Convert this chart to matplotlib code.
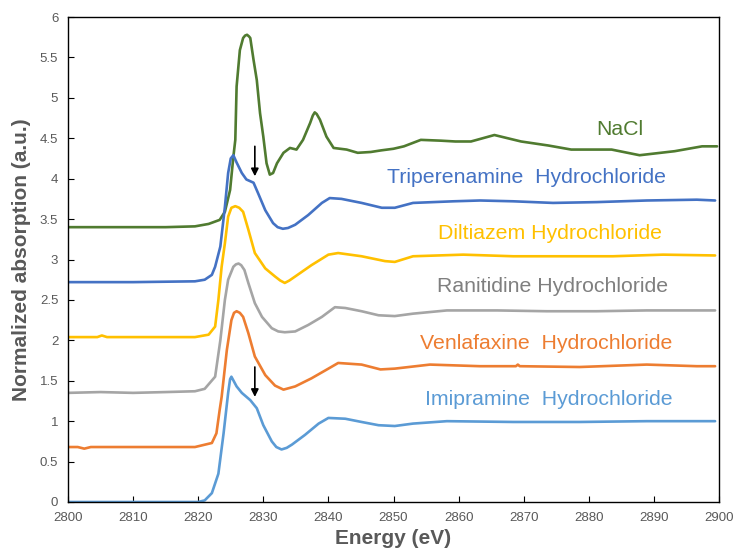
import matplotlib
matplotlib.use("Agg")
import matplotlib.pyplot as plt

plt.rcParams['font.family'] = ['Liberation Sans', 'DejaVu Sans']

# ---- data ----
E_nacl = [2800, 2805, 2810, 2815, 2819.5, 2821.6, 2823.3, 2824.1, 2824.9, 2825.4, 2825.7, 2825.9, 2826.4,
          2826.9, 2827.2, 2827.5, 2827.8, 2828.0, 2828.5, 2829.0, 2829.5, 2830.0, 2830.5, 2831.0, 2831.5,
          2832.1, 2833.1, 2834.1, 2835.1, 2836.1, 2837.2, 2837.6, 2837.9, 2838.2, 2838.7, 2839.7, 2840.8,
          2842.8, 2844.5, 2846.5, 2848.1, 2850, 2851.6, 2854.2, 2857.3, 2859.5, 2861.9, 2865.5, 2869.6,
          2873.8, 2877.3, 2883.5, 2887.8, 2893.2, 2897.4, 2899.7]
A_nacl = [3.40, 3.40, 3.40, 3.40, 3.41, 3.44, 3.49, 3.59, 3.86, 4.27, 4.48, 5.14, 5.59,
          5.74, 5.77, 5.78, 5.76, 5.74, 5.47, 5.22, 4.81, 4.52, 4.19, 4.05, 4.07,
          4.19, 4.32, 4.38, 4.36, 4.48, 4.69, 4.78, 4.82, 4.80, 4.73, 4.52, 4.38,
          4.36, 4.32, 4.33, 4.35, 4.37, 4.40, 4.48, 4.47, 4.46, 4.46, 4.54, 4.46,
          4.41, 4.36, 4.36, 4.29, 4.34, 4.40, 4.40]

E_trip = [2800, 2810, 2819.5, 2821.0, 2822.1, 2822.6, 2823.4, 2824.1, 2824.6, 2825.0, 2825.4, 2825.9,
          2826.7, 2827.4, 2828.5, 2829.2, 2830.3, 2831.5, 2832.2, 2833.0, 2833.8, 2834.9, 2836.9, 2839.0,
          2840.2, 2842.0, 2845.1, 2848.2, 2850.2, 2853, 2859.2, 2863.3, 2868.4, 2874.5, 2881.2, 2888.9,
          2896.6, 2899.4]
A_trip = [2.72, 2.72, 2.73, 2.75, 2.81, 2.91, 3.16, 3.65, 4.07, 4.25, 4.29, 4.20,
          4.07, 3.99, 3.95, 3.82, 3.61, 3.45, 3.40, 3.38, 3.39, 3.43, 3.55, 3.70,
          3.76, 3.75, 3.70, 3.64, 3.64, 3.70, 3.72, 3.73, 3.72, 3.70, 3.71, 3.73,
          3.74, 3.73]

E_dilt = [2800, 2804.5, 2805.2, 2806, 2810, 2819.5, 2821.6, 2822.6, 2823.1, 2823.6, 2824.1, 2824.6,
          2825.1, 2825.7, 2826.3, 2826.9, 2827.7, 2828.7, 2830.3, 2831.8, 2832.6, 2833.3, 2834.0, 2834.9,
          2837.4, 2840.0, 2841.5, 2845.1, 2848.7, 2850.2, 2853, 2860.7, 2868.4, 2876, 2883.7, 2891.4,
          2899.4]
A_dilt = [2.04, 2.04, 2.06, 2.04, 2.04, 2.04, 2.07, 2.17, 2.50, 2.91, 3.20, 3.53,
          3.64, 3.66, 3.64, 3.59, 3.37, 3.08, 2.89, 2.79, 2.74, 2.71, 2.74, 2.79,
          2.93, 3.06, 3.08, 3.04, 2.98, 2.97, 3.04, 3.06, 3.04, 3.04, 3.04, 3.06,
          3.05]

E_rani = [2800, 2805, 2810, 2815, 2819.5, 2821.0, 2822.6, 2823.4, 2824.1, 2824.6, 2825.4, 2825.8,
          2826.2, 2826.6, 2827.1, 2827.7, 2828.7, 2829.8, 2831.3, 2832.3, 2833.3, 2834.9, 2836.9, 2839.0,
          2841.0, 2842.6, 2845.1, 2847.7, 2850.2, 2853, 2858.2, 2865.9, 2873.5, 2881.2, 2888.9, 2899.4]
A_rani = [1.35, 1.36, 1.35, 1.36, 1.37, 1.40, 1.55, 2.00, 2.50, 2.75, 2.91, 2.94,
          2.95, 2.93, 2.87, 2.71, 2.46, 2.29, 2.15, 2.11, 2.10, 2.11, 2.19, 2.29,
          2.41, 2.40, 2.36, 2.31, 2.30, 2.33, 2.37, 2.37, 2.36, 2.36, 2.37, 2.37]

E_venl = [2800, 2801.5, 2802.5, 2803.5, 2810, 2819.5, 2822.1, 2822.8, 2823.3, 2823.6, 2824.4, 2825.1,
          2825.5, 2825.9, 2826.4, 2826.9, 2827.7, 2828.7, 2830.3, 2831.8, 2833.1, 2834.9, 2837.4, 2840.0,
          2841.5, 2845.1, 2848, 2850.2, 2855.6, 2863.3, 2868.8, 2869.1, 2869.4, 2878.6, 2888.9, 2896.6,
          2899.4]
A_venl = [0.68, 0.68, 0.66, 0.68, 0.68, 0.68, 0.73, 0.85, 1.14, 1.30, 1.88, 2.25,
          2.34, 2.36, 2.34, 2.29, 2.09, 1.80, 1.57, 1.44, 1.39, 1.43, 1.53, 1.65,
          1.72, 1.70, 1.64, 1.65, 1.70, 1.68, 1.68, 1.70, 1.68, 1.67, 1.70, 1.68,
          1.68]

E_imip = [2800, 2810, 2820, 2821, 2822.1, 2823.1, 2823.9, 2824.6, 2824.9, 2825.1, 2825.5, 2825.9,
          2826.7, 2828.0, 2829.0, 2830.0, 2831.3, 2832.0, 2832.8, 2833.6, 2834.4, 2836.4, 2838.5, 2840.0,
          2842.6, 2845.1, 2847.7, 2850.2, 2853, 2858.2, 2868.4, 2878.6, 2888.9, 2899.4]
A_imip = [0.0, 0.0, 0.0, 0.02, 0.11, 0.35, 0.85, 1.35, 1.52, 1.55, 1.49, 1.43,
          1.35, 1.26, 1.16, 0.95, 0.75, 0.68, 0.65, 0.67, 0.71, 0.83, 0.97, 1.04,
          1.03, 0.99, 0.95, 0.94, 0.97, 1.00, 0.99, 0.99, 1.00, 1.00]

names = ["NaCl", "Triperenamine  Hydrochloride", "Diltiazem Hydrochloride",
         "Ranitidine Hydrochloride", "Venlafaxine  Hydrochloride", "Imipramine  Hydrochloride"]
label_x = [2884.8, 2870.5, 2874.1, 2874.4, 2873.4, 2873.8]
label_y = [4.61, 4.02, 3.325, 2.66, 1.96, 1.27]
line_colors = ["#507B30", "#4472C4", "#FFC000", "#A5A5A5", "#ED7D31", "#5B9BD5"]
text_colors = ["#507B30", "#4472C4", "#FFC000", "#7F7F7F", "#ED7D31", "#5B9BD5"]

arrow_x = [2828.7, 2828.7]
arrow_top = [4.40, 1.67]
arrow_tip = [4.03, 1.30]

x_ticks = list(range(2800, 2901, 10))
y_ticks = [0, 0.5, 1, 1.5, 2, 2.5, 3, 3.5, 4, 4.5, 5, 5.5, 6]
y_tick_labels = ["0", "0.5", "1", "1.5", "2", "2.5", "3", "3.5", "4", "4.5", "5", "5.5", "6"]

series = [(E_nacl, A_nacl), (E_trip, A_trip), (E_dilt, A_dilt),
          (E_rani, A_rani), (E_venl, A_venl), (E_imip, A_imip)]

# ---- figure ----
fig = plt.figure(figsize=(7.35, 5.53), dpi=100)
ax = fig.add_axes([68 / 735, 51 / 553, (719 - 68) / 735, (502 - 17) / 553])

for (E, A), c in zip(series, line_colors):
    ax.plot(E, A, color=c, lw=1.9, solid_joinstyle='round', solid_capstyle='round')

for n, lx, ly, tc in zip(names, label_x, label_y, text_colors):
    ax.text(lx, ly, n, color=tc, fontsize=15.3, ha='center', va='center')

for x, yt, yb in zip(arrow_x, arrow_top, arrow_tip):
    ax.annotate('', xy=(x, yb), xytext=(x, yt),
                arrowprops=dict(arrowstyle='-|>', color='black', lw=1.2,
                                mutation_scale=11, shrinkA=0, shrinkB=0))

ax.set_xlim(2800, 2900)
ax.set_ylim(0, 6)
ax.set_xticks(x_ticks)
ax.set_yticks(y_ticks)
ax.set_yticklabels(y_tick_labels)
ax.tick_params(direction='in', length=4, width=0.8, colors='black',
               labelcolor='#595959', labelsize=9.5)
ax.tick_params(axis='x', pad=7)
ax.tick_params(axis='y', pad=7)
for s in ax.spines.values():
    s.set_color('black')
    s.set_linewidth(1.0)

ax.set_xlabel("Energy (eV)", fontsize=15, fontweight='bold', color='#595959', labelpad=4)
ax.set_ylabel("Normalized absorption (a.u.)", fontsize=15, fontweight='bold', color='#595959', labelpad=6)

fig.savefig("out.png", dpi=100)
